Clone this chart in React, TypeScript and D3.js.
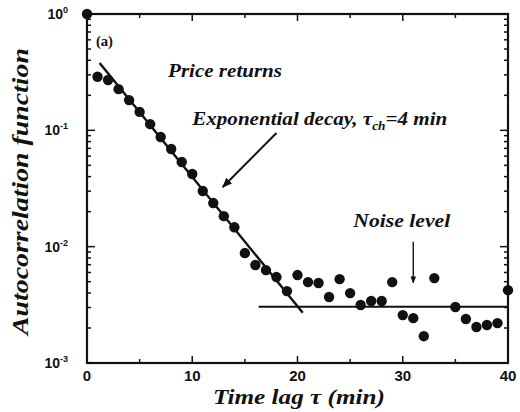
import React, { useEffect, useRef } from "react";
import * as d3 from "d3";

// time lag (min) and autocorrelation of price returns
const lags = [0, 1, 2, 3, 4, 5, 6, 7, 8, 9, 10, 11, 12, 13, 14, 15, 16, 17, 18, 19, 20, 21, 22, 23, 24, 25, 26, 27, 28, 29, 30, 31, 32, 33, 35, 36, 37, 38, 39, 40];
const acf = [1, 0.289, 0.271, 0.226, 0.182, 0.144, 0.113, 0.0877, 0.0691, 0.0534, 0.0421, 0.0301, 0.0237, 0.0183, 0.0147, 0.00881, 0.00695, 0.00629, 0.00548, 0.00415, 0.0057, 0.00496, 0.00487, 0.00369, 0.00526, 0.00399, 0.00315, 0.00341, 0.00341, 0.00496, 0.00258, 0.00243, 0.0017, 0.00537, 0.00303, 0.00239, 0.00204, 0.00212, 0.0022, 0.00423];

const xTicks = [0, 10, 20, 30, 40];
const xMinorTicks = [5, 15, 25, 35];
const yTicks = [1, 0.1, 0.01, 0.001];
const yTickExp = ["0", "-1", "-2", "-3"];

// exponential fit (straight on the log axis) and noise level
const fitLag = [1.2, 20.5];
const fitValue = [0.38, 0.0027];
const noiseLag = [16.3, 40];
const noiseValue = 0.00304;

// annotation pointers
const expArrowLag = [18.0, 12.9];
const expArrowValue = [0.0948, 0.0326];
const noiseArrowLag = 31;
const noiseArrowValue = [0.011, 0.0049];

const App = () => {
  const svgRef = useRef(null);

  useEffect(() => {
    const W = 520;
    const H = 412;
    const margin = { top: 14, right: 12, bottom: 49, left: 87 };

    const svg = d3.select(svgRef.current);
    svg.selectAll("*").remove();

    const x = d3.scaleLinear().domain([0, 40]).range([margin.left, W - margin.right]);
    const y = d3.scaleLog().domain([0.001, 1]).range([H - margin.bottom, margin.top]);

    const x0 = x.range()[0];
    const x1 = x.range()[1];
    const y0 = y.range()[0];
    const y1 = y.range()[1];

    const sans = "'Liberation Sans', Arial, sans-serif";
    const serif = "'Liberation Serif', 'Times New Roman', serif";

    const defs = svg.append("defs");
    defs
      .append("marker")
      .attr("id", "head")
      .attr("viewBox", "0 0 10 10")
      .attr("refX", 9)
      .attr("refY", 5)
      .attr("markerWidth", 5)
      .attr("markerHeight", 5)
      .attr("orient", "auto")
      .append("path")
      .attr("d", "M0,1 L10,5 L0,9 Z")
      .attr("fill", "#111");

    // frame
    svg
      .append("rect")
      .attr("x", x0)
      .attr("y", y1)
      .attr("width", x1 - x0)
      .attr("height", y0 - y1)
      .attr("fill", "none")
      .attr("stroke", "#111")
      .attr("stroke-width", 2.2);

    // x ticks (bottom and top, inward)
    const allX = xTicks.map((d) => ({ v: d, len: 7 })).concat(xMinorTicks.map((d) => ({ v: d, len: 4 })));
    svg
      .selectAll(".xt-b")
      .data(allX)
      .join("line")
      .attr("x1", (d) => x(d.v))
      .attr("x2", (d) => x(d.v))
      .attr("y1", y0)
      .attr("y2", (d) => y0 - d.len)
      .attr("stroke", "#111")
      .attr("stroke-width", 1.5);
    svg
      .selectAll(".xt-t")
      .data(allX)
      .join("line")
      .attr("x1", (d) => x(d.v))
      .attr("x2", (d) => x(d.v))
      .attr("y1", y1)
      .attr("y2", (d) => y1 + d.len)
      .attr("stroke", "#111")
      .attr("stroke-width", 1.5);

    svg
      .selectAll(".xl")
      .data(xTicks)
      .join("text")
      .attr("x", (d) => x(d))
      .attr("y", y0 + 18)
      .attr("text-anchor", "middle")
      .attr("font-family", sans)
      .attr("font-weight", "bold")
      .attr("font-size", 15)
      .attr("fill", "#111")
      .text((d) => d);

    // y ticks (left and right, inward), log minors from scale
    const yAll = y.ticks().map((v) => ({ v, major: yTicks.some((t) => Math.abs(t - v) / t < 1e-6) }));
    svg
      .selectAll(".yt-l")
      .data(yAll)
      .join("line")
      .attr("x1", x0)
      .attr("x2", (d) => x0 + (d.major ? 8 : 4))
      .attr("y1", (d) => y(d.v))
      .attr("y2", (d) => y(d.v))
      .attr("stroke", "#111")
      .attr("stroke-width", 1.5);
    svg
      .selectAll(".yt-r")
      .data(yAll)
      .join("line")
      .attr("x1", x1)
      .attr("x2", (d) => x1 - (d.major ? 8 : 4))
      .attr("y1", (d) => y(d.v))
      .attr("y2", (d) => y(d.v))
      .attr("stroke", "#111")
      .attr("stroke-width", 1.5);

    const yl = svg
      .selectAll(".yl")
      .data(yTicks)
      .join("text")
      .attr("x", x0 - 19)
      .attr("y", (d) => y(d) + 5)
      .attr("text-anchor", "end")
      .attr("font-family", sans)
      .attr("font-weight", "bold")
      .attr("font-size", 14)
      .attr("fill", "#111");
    yl.append("tspan").text("10");
    yl.append("tspan")
      .attr("dy", -6)
      .attr("font-size", 9)
      .text((d, i) => yTickExp[i]);

    // axis titles
    svg
      .append("text")
      .attr("x", 213)
      .attr("y", H - 8)
      .attr("font-family", serif)
      .attr("font-style", "italic")
      .attr("font-weight", "bold")
      .attr("font-size", 21)
      .attr("textLength", 172)
      .attr("lengthAdjust", "spacingAndGlyphs")
      .attr("fill", "#111")
      .text("Time lag \u03c4 (min)");

    svg
      .append("text")
      .attr("transform", `translate(28, 335) rotate(-90)`)
      .attr("font-family", serif)
      .attr("font-style", "italic")
      .attr("font-weight", "bold")
      .attr("font-size", 24)
      .attr("textLength", 287)
      .attr("lengthAdjust", "spacingAndGlyphs")
      .attr("fill", "#111")
      .text("Autocorrelation function");

    // fit and noise lines
    const line = d3
      .line<[number, number]>()
      .x((d) => x(d[0]))
      .y((d) => y(d[1]));

    svg
      .append("path")
      .attr("d", line(fitLag.map((t, i) => [t, fitValue[i]] as [number, number])))
      .attr("fill", "none")
      .attr("stroke", "#111")
      .attr("stroke-width", 2.4);

    svg
      .append("path")
      .attr("d", line(noiseLag.map((t) => [t, noiseValue] as [number, number])))
      .attr("fill", "none")
      .attr("stroke", "#111")
      .attr("stroke-width", 2);

    // data points
    svg
      .selectAll(".pt")
      .data(lags)
      .join("circle")
      .attr("cx", (d) => x(d))
      .attr("cy", (d, i) => y(acf[i]))
      .attr("r", 5.2)
      .attr("fill", "#111");

    // annotations
    const txt = (tx, ty, size, italic, len?) => {
      const t = svg
        .append("text")
        .attr("x", x(tx))
        .attr("y", y(ty))
        .attr("font-family", serif)
        .attr("font-style", italic ? "italic" : "normal")
        .attr("font-weight", "bold")
        .attr("font-size", size)
        .attr("fill", "#111");
      if (len) t.attr("textLength", len).attr("lengthAdjust", "spacingAndGlyphs");
      return t;
    };

    txt(0.85, 0.53, 15, false, 17).text("(a)");
    txt(7.7, 0.29, 19, true, 114).text("Price returns");
    const e = txt(10.0, 0.111, 19, true, 255);
    e.append("tspan").text("Exponential decay, \u03c4");
    e.append("tspan").attr("dy", 5).attr("font-size", 12).text("ch");
    e.append("tspan").attr("dy", -5).text("=4 min");
    txt(25.3, 0.0149, 19, true, 97).text("Noise level");

    svg
      .append("path")
      .attr("d", line(expArrowLag.map((t, i) => [t, expArrowValue[i]] as [number, number])))
      .attr("stroke", "#111")
      .attr("stroke-width", 2)
      .attr("marker-end", "url(#head)");

    svg
      .append("path")
      .attr("d", line(noiseArrowValue.map((v) => [noiseArrowLag, v] as [number, number])))
      .attr("stroke", "#111")
      .attr("stroke-width", 1.4)
      .attr("marker-end", "url(#head)");
  }, []);

  return (
    <svg
      ref={svgRef}
      width={520}
      height={412}
      style={{ position: "absolute", left: 0, top: 0, background: "#fff" }}
    />
  );
};

export default App;
